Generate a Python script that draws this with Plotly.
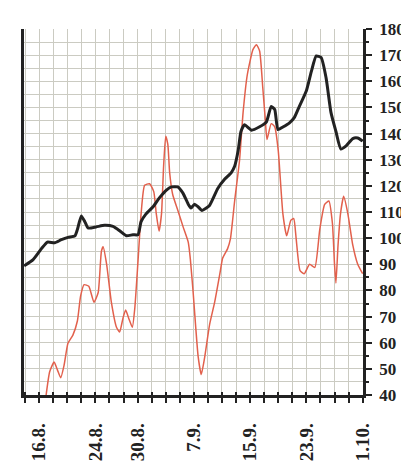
import plotly.graph_objects as go

# x positions are days after 16 August
tick_days = [0, 8, 14, 22, 30, 38, 46]
tick_text = ["16.8.", "24.8.", "30.8.", "7.9.", "15.9.", "23.9.", "1.10."]
y_ticks = list(range(40, 181, 10))

black_day = [-2.13, -0.85, 0.33, 1.18, 2.2, 3.17, 4.1, 5.1, 5.44, 6.0, 6.5, 6.96, 8.1, 9.3,
             10.5, 11.5, 12.4, 13.35, 14.06, 14.5, 15.2, 16.2, 17.1, 18.1, 18.8, 19.7, 20.45,
             21.2, 21.6, 22.1, 22.6, 23.15, 24.2, 25.4, 26.4, 27.3, 27.8, 28.3, 28.7, 29.2,
             30.2, 31.35, 32.3, 33.0, 33.5, 33.95, 34.66, 35.6, 36.3, 37.0, 38.0, 38.7, 39.4,
             40.1, 40.8, 41.5, 42.2, 42.9, 43.65, 44.6, 45.3, 46.0]
black_val = [89.4, 91.8, 96.0, 98.5, 98.2, 99.4, 100.3, 100.9, 103.3, 108.5, 106.3, 103.9, 104.3,
             104.9, 104.5, 102.7, 100.9, 101.3, 101.3, 106.3, 109.3, 112.0, 115.4, 118.4, 119.6,
             119.6, 117.2, 113.0, 111.5, 113.0, 112.0, 110.6, 112.4, 119.0, 122.6, 125.0, 127.5,
             133.5, 140.8, 143.4, 141.3, 142.6, 144.4, 150.4, 149.2, 141.5, 142.5, 144.1, 146.2,
             150.4, 156.4, 163.7, 169.7, 169.1, 161.3, 148.0, 140.8, 134.1, 135.3, 138.1, 138.3,
             137.1]

red_day = [0.9, 1.5, 2.13, 2.6, 3.07, 3.55, 4.1, 4.8, 5.44, 5.9, 6.4, 7.06, 7.8, 8.4, 8.85, 9.1,
           9.6, 10.27, 11.0, 11.45, 11.93, 12.3, 12.8, 13.25, 13.6, 14.06, 14.5, 15.0, 15.7,
           16.3, 16.66, 17.05, 17.4, 17.7, 18.0, 18.3, 18.56, 19.0, 19.74, 20.45, 21.2, 21.5,
           21.9, 22.6, 23.05, 23.5, 24.25, 24.96, 25.7, 26.1, 26.8, 27.2, 27.8, 28.5, 29.0,
           29.6, 30.4, 30.9, 31.35, 31.8, 32.15, 32.4, 33.0, 33.5, 34.0, 34.66, 35.2, 35.8,
           36.2, 36.55, 37.1, 37.7, 38.45, 39.2, 39.9, 40.6, 41.2, 41.7, 42.0, 42.2, 42.5,
           42.85, 43.3, 43.9, 44.6, 45.3, 46.0]
red_val = [38.0, 48.9, 52.6, 49.6, 46.6, 51.4, 59.8, 62.9, 68.3, 77.9, 82.2, 81.6, 75.5, 79.2,
           94.9, 96.7, 90.0, 75.5, 65.9, 64.1, 69.5, 72.5, 68.9, 65.9, 73.1, 91.2, 109.3, 120.2,
           120.8, 117.8, 109.3, 102.7, 109.3, 127.5, 139.0, 135.9, 125.0, 116.6, 110.5, 104.5,
           98.5, 92.0, 79.2, 55.0, 47.8, 53.8, 67.1, 75.5, 86.4, 92.4, 96.0, 99.7, 114.2, 129.9,
           148.0, 162.5, 172.1, 174.0, 171.6, 157.6, 145.6, 137.7, 143.8, 142.6, 133.5, 109.3,
           100.9, 106.9, 107.5, 99.7, 87.6, 86.4, 90.0, 88.8, 103.3, 112.9, 114.2, 105.7, 90.0,
           82.8, 97.3, 109.3, 116.0, 109.3, 97.3, 90.0, 86.4]

GRID = "#cbcbc2"
FONT = "Liberation Serif"

fig = go.Figure()
fig.add_trace(go.Scatter(x=red_day, y=red_val, mode="lines",
                         line=dict(color="#e2604c", width=1.5, shape="spline", smoothing=0.5),
                         hoverinfo="skip", showlegend=False))
fig.add_trace(go.Scatter(x=black_day, y=black_val, mode="lines",
                         line=dict(color="#222222", width=3, shape="spline", smoothing=0.5),
                         hoverinfo="skip", showlegend=False))
# invisible trace so the overlay axis (inside tick marks) is drawn
fig.add_trace(go.Scatter(x=[tick_days[0]], y=[y_ticks[0]], mode="markers", xaxis="x2",
                         marker=dict(opacity=0), hoverinfo="skip", showlegend=False))

xr = [-2.15, 46.05]
fig.update_layout(
    width=409, height=465,
    margin=dict(l=16, r=53, t=15, b=63),
    paper_bgcolor="white", plot_bgcolor="white",
    xaxis=dict(range=xr, tickmode="array", tickvals=tick_days, ticktext=tick_text,
               tickangle=-90, ticks="outside", ticklen=5, tickwidth=1.5, tickcolor="#222",
               ticklabelstandoff=13,
               tickfont=dict(family=FONT, size=19, color="#222", weight="bold"),
               showgrid=True, gridcolor=GRID, gridwidth=1,
               showline=True, linecolor="#222", linewidth=2.5, mirror=False,
               zeroline=False,
               minor=dict(tick0=0, dtick=2, ticks="outside", ticklen=5, tickwidth=1.5,
                          tickcolor="#222", showgrid=True, gridcolor=GRID, gridwidth=1)),
    xaxis2=dict(range=xr, overlaying="x", anchor="y", side="bottom",
                tickmode="linear", tick0=0, dtick=2, ticks="inside", ticklen=3,
                tickwidth=1.5, tickcolor="#222", showticklabels=False,
                showgrid=False, showline=False, zeroline=False),
    yaxis=dict(range=[40, 180], side="right", tickmode="array", tickvals=y_ticks,
               ticks="outside", ticklen=6, tickwidth=2, tickcolor="#222",
               ticklabelstandoff=4,
               tickfont=dict(family=FONT, size=17, color="#222", weight="bold"),
               showgrid=True, gridcolor=GRID, gridwidth=1,
               showline=True, linecolor="#222", linewidth=2.5, mirror=True,
               zeroline=False,
               minor=dict(tick0=0, dtick=5, ticks="outside", ticklen=3, tickwidth=1.5,
                          tickcolor="#222", showgrid=True, gridcolor=GRID, gridwidth=1)),
)

fig.write_html("out.html")
